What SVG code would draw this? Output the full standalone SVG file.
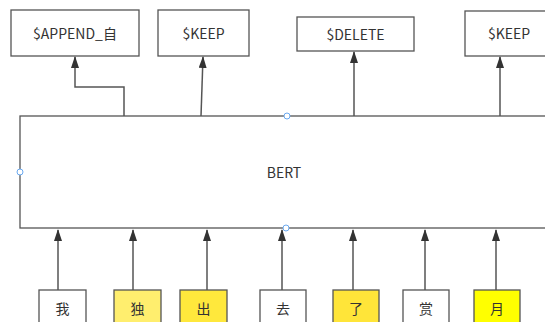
<svg xmlns="http://www.w3.org/2000/svg" width="545" height="322" viewBox="0 0 545 322">
  <defs>
    <marker id="arrow" viewBox="0 0 12 8" refX="11" refY="4" markerWidth="12" markerHeight="8" markerUnits="userSpaceOnUse" orient="auto">
      <path d="M0,0 L12,4 L0,8 Z" fill="#333"/>
    </marker>
    <style>
      .box { fill: #ffffff; stroke: #555; stroke-width: 1.3; }
      .lbl { font-family: "Noto Sans CJK SC", "Liberation Sans", sans-serif; font-size: 14px; fill: #333; text-anchor: middle; dominant-baseline: central; }
      .conn { fill: none; stroke: #555; stroke-width: 1.5; }
      .handle { fill: #fff; stroke: #6aa9f0; stroke-width: 1; }
    </style>
  </defs>
  <rect width="545" height="322" fill="#ffffff"/>

  <!-- output tags -->
  <g id="out-append">
    <rect class="box" x="11" y="10" width="128" height="46"/>
    <text class="lbl" x="75" y="33">$APPEND_自</text>
  </g>
  <g id="out-keep1">
    <rect class="box" x="158" y="10" width="91" height="46"/>
    <text class="lbl" x="203.5" y="33">$KEEP</text>
  </g>
  <g id="out-delete">
    <rect class="box" x="297" y="17" width="117" height="34"/>
    <text class="lbl" x="355.5" y="34">$DELETE</text>
  </g>
  <g id="out-keep2">
    <rect class="box" x="465" y="11" width="90" height="45"/>
    <text class="lbl" x="509" y="33">$KEEP</text>
  </g>

  <!-- encoder -->
  <g id="bert">
    <rect class="box" x="20" y="116" width="540" height="112"/>
    <text class="lbl" x="284" y="172">BERT</text>
  </g>

  <!-- input characters -->
  <g id="in-wo">
    <rect class="box" x="39" y="290" width="47" height="40"/>
    <text class="lbl" x="62.5" y="308">我</text>
  </g>
  <g id="in-du">
    <rect class="box" x="114" y="290" width="47" height="40" style="fill:#ffee6e"/>
    <text class="lbl" x="137.5" y="308">独</text>
  </g>
  <g id="in-chu">
    <rect class="box" x="180" y="290" width="47" height="40" style="fill:#ffe83c"/>
    <text class="lbl" x="203.5" y="308">出</text>
  </g>
  <g id="in-qu">
    <rect class="box" x="260" y="290" width="46" height="40"/>
    <text class="lbl" x="283" y="308">去</text>
  </g>
  <g id="in-le">
    <rect class="box" x="333" y="290" width="46" height="40" style="fill:#ffe539"/>
    <text class="lbl" x="356" y="308">了</text>
  </g>
  <g id="in-shang">
    <rect class="box" x="403" y="290" width="46" height="40"/>
    <text class="lbl" x="426" y="308">赏</text>
  </g>
  <g id="in-yue">
    <rect class="box" x="474" y="290" width="46" height="40" style="fill:#ffff00"/>
    <text class="lbl" x="497" y="308">月</text>
  </g>

  <!-- connectors -->
  <g id="connectors">
    <path class="conn" d="M124,116 V87 H75 V57" marker-end="url(#arrow)"/>
    <path class="conn" d="M201,116 L203,57" marker-end="url(#arrow)"/>
    <path class="conn" d="M354,116 V52" marker-end="url(#arrow)"/>
    <path class="conn" d="M500,116 V57" marker-end="url(#arrow)"/>

    <path class="conn" d="M58,290 V230" marker-end="url(#arrow)"/>
    <path class="conn" d="M133,290 V230" marker-end="url(#arrow)"/>
    <path class="conn" d="M207,290 V230" marker-end="url(#arrow)"/>
    <path class="conn" d="M282,290 V230" marker-end="url(#arrow)"/>
    <path class="conn" d="M353,290 V230" marker-end="url(#arrow)"/>
    <path class="conn" d="M425,290 V230" marker-end="url(#arrow)"/>
    <path class="conn" d="M496,290 V230" marker-end="url(#arrow)"/>
  </g>

  <!-- selection handles on the encoder -->
  <g id="handles">
    <circle class="handle" cx="287" cy="116" r="3"/>
    <circle class="handle" cx="20" cy="172" r="3"/>
    <circle class="handle" cx="286" cy="228" r="3"/>
  </g>
</svg>
